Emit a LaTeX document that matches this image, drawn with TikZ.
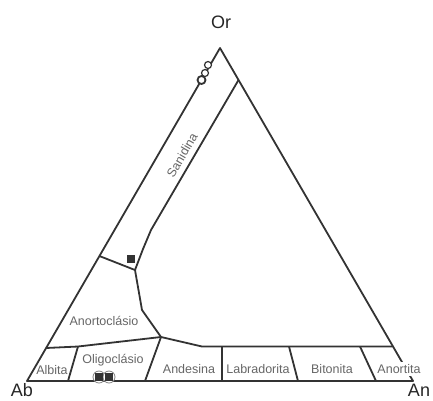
\documentclass[tikz,border=0pt]{standalone}
\usepackage{fontspec}
\setmainfont{Liberation Sans}
\begin{document}
\begin{tikzpicture}[x=1pt,y=-1pt,
  edge/.style={line width=1.8pt, draw=black!80, line join=round},
  fld/.style={font=\fontsize{12.5}{14}\selectfont, text=black!60, inner sep=1pt},
  vtx/.style={font=\fontsize{18}{20}\selectfont, text=black!85, inner sep=0pt},
  sq/.style={fill=black!80, draw=none, minimum size=8pt, inner sep=0pt},
  ring/.style={draw=black!80, fill=white, line width=1.2pt}]
\useasboundingbox (0,0) rectangle (433,400);
% vertices
\coordinate (Or) at (220,48);
\coordinate (Ab) at (27,381);
\coordinate (An) at (413,381);
% inner points
\coordinate (s1) at (238.5,80);
\coordinate (s2) at (151,230);
\coordinate (s3) at (143,249);
\coordinate (K) at (135,270);
\coordinate (L1) at (99.4,256);
\coordinate (k2) at (142,310);
\coordinate (J) at (161,337);
\coordinate (b0) at (46,348);
\coordinate (b1) at (78,346.5);
\coordinate (b2) at (202,346.5);
\coordinate (b3) at (392.7,346.5);
\coordinate (d1) at (68,381);
\coordinate (d2) at (145,381);
\coordinate (t3) at (222,346.5);
\coordinate (d3) at (222,381);
\coordinate (t4) at (289,346.5);
\coordinate (d4) at (298,381);
\coordinate (t5) at (360,346.5);
\coordinate (d5) at (376,381);
% triangle
\draw[edge] (Or) -- (Ab) -- (An) -- cycle;
% field boundaries
\draw[edge] (s1) -- (s2) -- (s3) -- (K) -- (k2) -- (J);
\draw[edge] (L1) -- (K);
\draw[edge] (b0) -- (b1) -- (J) -- (b2) -- (b3);
\draw[edge] (b1) -- (d1);
\draw[edge] (J) -- (d2);
\draw[edge] (t3) -- (d3);
\draw[edge] (t4) -- (d4);
\draw[edge] (t5) -- (d5);
% vertex labels
\node[vtx] (lOr) at (221,22) {Or};
\node[vtx] (lAb) at (22,390) {Ab};
\node[vtx] (lAn) at (419,390) {An};
% field labels
\node[fld, rotate=60] (lSan) at (182,155) {Sanidina};
\node[fld] (lAnort) at (104,321) {Anortoclásio};
\node[fld] (lAlb) at (52,370) {Albita};
\node[fld] (lOlig) at (113,360) {Oligoclásio};
\node[fld] (lAnd) at (189,369) {Andesina};
\node[fld] (lLab) at (258,369) {Labradorita};
\node[fld] (lBit) at (332,369) {Bitonita};
\node[fld, fill=white, inner sep=2pt] (lAnt) at (399,369) {Anortita};
% data points
\node[sq] (p1) at (131,259) {};
\draw[black!50, line width=0.8pt, fill=white] (99,377) circle (6);
\draw[black!50, line width=0.8pt, fill=white] (109,377) circle (6);
\node[sq] (p2) at (99,377) {};
\node[sq] (p3) at (109,377) {};
\node[ring, circle, minimum size=7pt, inner sep=0pt] (c1) at (208,65) {};
\node[ring, circle, minimum size=7pt, inner sep=0pt] (c2) at (205,73) {};
\node[ring, circle, minimum size=8pt, inner sep=0pt, line width=1.8pt] (c3) at (201.5,80) {};
\end{tikzpicture}
\end{document}
